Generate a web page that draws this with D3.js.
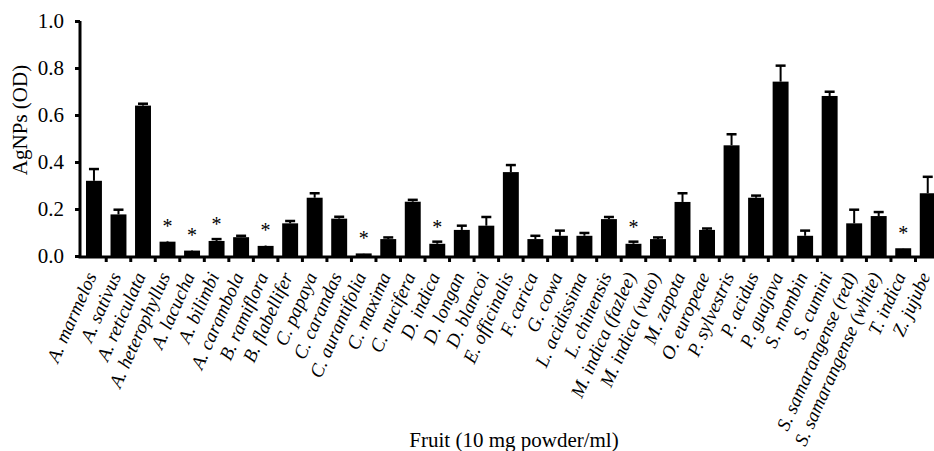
<!DOCTYPE html>
<html>
<head>
<meta charset="utf-8">
<script src="https://cdn.jsdelivr.net/npm/d3@7"></script>
<style>
body { margin: 0; background: #fff; }
svg { display: block; }
</style>
</head>
<body>
<svg width="934" height="451"></svg>
<script>
// fruit names, OD means, upper error, significance marks
const fruits = ["A. marmelos", "A. sativus", "A. reticulata", "A. heterophyllus", "A. lacucha", "A. bilimbi",
  "A. carambola", "B. ramiflora", "B. flabellifer", "C. papaya", "C. carandas", "C. aurantifolia",
  "C. maxima", "C. nucifera", "D. indica", "D. longan", "D. blancoi", "E. officinalis", "F. carica",
  "G. cowa", "L. acidissima", "L. chinensis", "M. indica (fazlee)", "M. indica (vuto)", "M. zapota",
  "O. europeae", "P. sylvestris", "P. acidus", "P. guajava", "S. mombin", "S. cumini",
  "S. samarangense (red)", "S. samarangense (white)", "T. indica", "Z. jujube"];
const od = [0.32, 0.177, 0.64, 0.061, 0.023, 0.064, 0.08, 0.043, 0.139, 0.248, 0.159, 0.011,
  0.072, 0.231, 0.052, 0.111, 0.129, 0.357, 0.072, 0.086, 0.086, 0.157, 0.052, 0.072, 0.23,
  0.111, 0.471, 0.248, 0.742, 0.086, 0.681, 0.139, 0.17, 0.033, 0.267];
const err = [0.05, 0.02, 0.008, 0.003, 0.002, 0.008, 0.006, 0.002, 0.01, 0.019, 0.008, 0.001,
  0.007, 0.008, 0.009, 0.018, 0.037, 0.03, 0.014, 0.022, 0.012, 0.009, 0.009, 0.007, 0.037,
  0.006, 0.047, 0.009, 0.068, 0.022, 0.018, 0.058, 0.017, 0.001, 0.07];
const sig = [0, 0, 0, 1, 1, 1, 0, 1, 0, 0, 0, 1, 0, 0, 1, 0, 0, 0, 0, 0, 0, 0, 1, 0, 0, 0, 0, 0, 0, 0, 0, 0, 0, 1, 0];
const yTicks = [0, 0.2, 0.4, 0.6, 0.8, 1.0];

const data = fruits.map((f, i) => ({name: f, v: od[i], e: err[i], s: sig[i]}));
const FONT = "'Liberation Serif'";

const svg = d3.select("svg");
const axisX = 80, y0 = 256;

const x = d3.scaleBand().domain(fruits).range([81.7, 940]).paddingInner(0.35).paddingOuter(0.175);
const y = d3.scaleLinear().domain([0, 1]).range([y0, 21]);

// bars
svg.append("g").selectAll("rect")
  .data(data)
  .enter()
  .append("rect")
  .attr("x", d => x(d.name))
  .attr("y", d => y(d.v))
  .attr("width", x.bandwidth())
  .attr("height", d => y0 - y(d.v))
  .attr("fill", "#000");

// error bars (upper only)
const eb = svg.append("g").attr("stroke", "#000");
eb.selectAll("line.v")
  .data(data)
  .enter()
  .append("line")
  .attr("class", "v")
  .attr("x1", d => x(d.name) + x.bandwidth() / 2)
  .attr("x2", d => x(d.name) + x.bandwidth() / 2)
  .attr("y1", d => y(d.v))
  .attr("y2", d => y(d.v + d.e))
  .attr("stroke-width", 2);
eb.selectAll("line.c")
  .data(data.filter(d => d.e > 0.004))
  .enter()
  .append("line")
  .attr("class", "c")
  .attr("x1", d => x(d.name) + x.bandwidth() / 2 - 5)
  .attr("x2", d => x(d.name) + x.bandwidth() / 2 + 5)
  .attr("y1", d => y(d.v + d.e))
  .attr("y2", d => y(d.v + d.e))
  .attr("stroke-width", 2.5);

// asterisks
svg.append("g").selectAll("text")
  .data(data.filter(d => d.s))
  .enter()
  .append("text")
  .attr("x", d => x(d.name) + x.bandwidth() / 2)
  .attr("y", d => y(d.v + d.e) - 8)
  .attr("text-anchor", "middle")
  .style("font-family", FONT)
  .style("font-size", "20px")
  .text("*");

// y axis
const yAxis = svg.append("g")
  .attr("transform", "translate(" + axisX + ",0)")
  .call(d3.axisLeft(y).tickValues(yTicks).tickFormat(d3.format(".1f")).tickSize(5).tickSizeOuter(0));
yAxis.select(".domain").attr("stroke-width", 3).attr("d", "M0," + y(1) + "V" + (y0 + 1.5));
yAxis.selectAll(".tick line").attr("stroke-width", 3);
yAxis.selectAll(".tick text")
  .attr("x", -16)
  .style("font-size", "21px")
  .style("font-family", FONT)
  .attr("fill", "#000");

// x axis line + ticks at band boundaries
svg.append("line")
  .attr("x1", axisX - 1.5).attr("x2", 934)
  .attr("y1", y0 + 1).attr("y2", y0 + 1)
  .attr("stroke", "#000").attr("stroke-width", 3);
svg.append("g").selectAll("line")
  .data(fruits)
  .enter()
  .append("line")
  .attr("x1", d => x(d) + x.bandwidth() + x.step() * x.paddingInner() / 2)
  .attr("x2", d => x(d) + x.bandwidth() + x.step() * x.paddingInner() / 2)
  .attr("y1", y0)
  .attr("y2", y0 + 6)
  .attr("stroke", "#000").attr("stroke-width", 3);

// category labels
svg.append("g").selectAll("text")
  .data(fruits)
  .enter()
  .append("text")
  .attr("transform", d => "translate(" + (x(d) + x.bandwidth() / 2 + 3) + "," + (y0 + 20) + ") rotate(-66)")
  .attr("text-anchor", "end")
  .style("font-family", FONT)
  .style("font-size", "19px")
  .style("font-style", "italic")
  .text(d => d);

// axis titles
svg.append("text")
  .attr("x", 514).attr("y", 447)
  .attr("text-anchor", "middle")
  .style("font-family", FONT)
  .style("font-size", "21px")
  .text("Fruit (10 mg powder/ml)");
svg.append("text")
  .attr("transform", "translate(27,120) rotate(-90)")
  .attr("text-anchor", "middle")
  .style("font-family", FONT)
  .style("font-size", "21px")
  .text("AgNPs (OD)");
</script>
</body>
</html>
